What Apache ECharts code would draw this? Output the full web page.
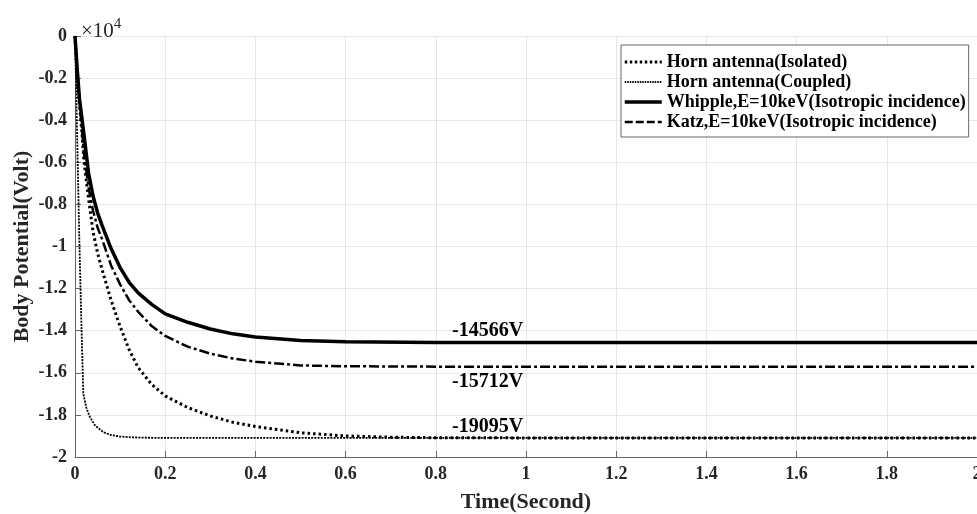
<!DOCTYPE html>
<html>
<head>
<meta charset="utf-8">
<script src="https://cdn.jsdelivr.net/npm/echarts@6/dist/echarts.min.js"></script>
<style>html,body{margin:0;padding:0;background:#fff;}#c{width:977px;height:514px;}</style>
</head>
<body>
<div id="c"></div>
<script>
// Time samples (s) and body potential (V)
const whippleT = [0, 0.005, 0.01, 0.02, 0.03, 0.04, 0.05, 0.06, 0.08, 0.1, 0.12, 0.14, 0.17, 0.2, 0.25, 0.3, 0.35, 0.4, 0.5, 0.6, 0.8, 1.0, 2.0];
const whippleV = [0, -1600, -3000, -4700, -6500, -7600, -8400, -9000, -10100, -11000, -11700, -12200, -12750, -13200, -13600, -13920, -14150, -14300, -14460, -14520, -14555, -14563, -14566];

const katzT = [0, 0.005, 0.01, 0.02, 0.03, 0.04, 0.05, 0.06, 0.08, 0.1, 0.12, 0.14, 0.17, 0.2, 0.25, 0.3, 0.35, 0.4, 0.5, 0.6, 0.8, 1.0, 2.0];
const katzV = [0, -1700, -3100, -5600, -7200, -8300, -9100, -9650, -10900, -11800, -12550, -13100, -13780, -14250, -14760, -15090, -15320, -15470, -15650, -15690, -15708, -15711, -15712];

const isolatedT = [0, 0.005, 0.01, 0.015, 0.02, 0.03, 0.04, 0.05, 0.06, 0.08, 0.1, 0.12, 0.14, 0.17, 0.2, 0.25, 0.3, 0.35, 0.4, 0.5, 0.6, 0.7, 0.8, 1.0, 2.0];
const isolatedV = [0, -2100, -3300, -4500, -6000, -7700, -9300, -10300, -11100, -12550, -13800, -14900, -15750, -16550, -17100, -17650, -18050, -18350, -18550, -18850, -19000, -19060, -19085, -19093, -19095];

const coupledT = [0, 0.005, 0.0096, 0.014, 0.0184, 0.025, 0.033, 0.045, 0.063, 0.08, 0.1, 0.13, 0.17, 0.25, 2.0];
const coupledV = [0, -5000, -9700, -13500, -17000, -17650, -18100, -18520, -18820, -18960, -19030, -19070, -19090, -19093, -19095];

const xTicks = [0, 0.2, 0.4, 0.6, 0.8, 1, 1.2, 1.4, 1.6, 1.8, 2];
const yTicks = [0, -0.2, -0.4, -0.6, -0.8, -1, -1.2, -1.4, -1.6, -1.8, -2];

const seriesNames = ['Horn antenna(Isolated)', 'Horn antenna(Coupled)', 'Whipple,E=10keV(Isotropic incidence)', 'Katz,E=10keV(Isotropic incidence)'];
const steadyLabels = [-14566, -15712, -19095];
const labelTime = 0.915;

const zip = (t, v) => t.map((x, i) => [x, v[i]]);
const serif = 'Liberation Serif, Times New Roman, serif';

const styles = [
  {color: '#000', width: 3, type: [2.5, 3], cap: 'butt'},
  {color: '#000', width: 1.8, type: [2, 1.2], cap: 'butt'},
  {color: '#000', width: 3.5, type: 'solid'},
  {color: '#000', width: 2.5, type: [10, 3, 3, 3], cap: 'butt'}
];
const legendStyles = [
  {color: '#000', width: 3, type: [2.5, 2.5], cap: 'butt'},
  {color: '#000', width: 1.8, type: [1.5, 1], cap: 'butt'},
  {color: '#000', width: 3.5, type: 'solid'},
  {color: '#000', width: 2.5, type: [8, 3], cap: 'butt'}
];

const chart = echarts.init(document.getElementById('c'), null, {renderer: 'canvas'});

function mp(val, dy) {
  return {
    symbol: 'circle', symbolSize: 0, silent: true,
    data: [{coord: [labelTime, val], value: val}],
    label: {show: true, position: 'inside', offset: [0, dy], formatter: '{c}V',
      color: '#000', fontFamily: serif, fontWeight: 'bold', fontSize: 20}
  };
}

chart.setOption({
  animation: false,
  backgroundColor: '#fff',
  title: {
    text: '{b|×10}{s|4}', left: 76, top: 8,
    textStyle: {
      rich: {
        b: {fontFamily: serif, fontWeight: 'normal', fontSize: 21, color: '#262626', padding: [8, 0, 0, 0]},
        s: {fontFamily: serif, fontWeight: 'normal', fontSize: 15, color: '#262626', padding: [0, 0, 6, 0]}
      }
    }
  },
  grid: {left: 75, right: 0, top: 36, bottom: 57, containLabel: false, outerBoundsMode: 'none'},
  legend: {
    orient: 'vertical', left: 621, top: 45, align: 'left',
    data: seriesNames.map((n, i) => ({name: n, lineStyle: legendStyles[i]})),
    itemWidth: 37, itemHeight: 18, itemGap: 2,
    padding: [8, 3, 6, 2],
    borderColor: '#666', borderWidth: 1, backgroundColor: '#fff',
    itemStyle: {color: 'transparent', borderWidth: 0, opacity: 0},
    textStyle: {fontFamily: serif, fontWeight: 'bold', fontSize: 18, color: '#000', lineHeight: 18}
  },
  xAxis: {
    type: 'value', min: 0, max: 2, interval: 0.2,
    name: 'Time(Second)', nameLocation: 'middle', nameGap: 34,
    nameTextStyle: {fontFamily: serif, fontWeight: 'bold', fontSize: 22, color: '#262626'},
    axisLine: {show: true, onZero: false, lineStyle: {color: '#666', width: 1}},
    axisTick: {show: true, inside: true, length: 6, lineStyle: {color: '#666'}},
    axisLabel: {margin: 8, fontFamily: serif, fontWeight: 'bold', fontSize: 18, color: '#262626',
      formatter: v => String(parseFloat(v.toFixed(1)))},
    splitLine: {show: true, lineStyle: {color: '#e6e6e6', width: 1}}
  },
  yAxis: {
    type: 'value', min: -20000, max: 0, interval: 2000,
    name: 'Body Potential(Volt)', nameLocation: 'middle', nameGap: 42, nameMoveOverlap: false,
    nameTextStyle: {fontFamily: serif, fontWeight: 'bold', fontSize: 22, color: '#262626'},
    axisLine: {show: true, onZero: false, lineStyle: {color: '#666', width: 1}},
    axisTick: {show: true, inside: true, length: 6, lineStyle: {color: '#666'}},
    axisLabel: {margin: 8, fontFamily: serif, fontWeight: 'bold', fontSize: 18, color: '#262626',
      formatter: v => String(parseFloat((v / 10000).toFixed(1)))},
    splitLine: {show: true, lineStyle: {color: '#e6e6e6', width: 1}}
  },
  series: [
    {name: seriesNames[0], type: 'line', showSymbol: false, symbol: 'none', z: 3,
      data: zip(isolatedT, isolatedV), lineStyle: styles[0], itemStyle: {color: '#000'}},
    {name: seriesNames[1], type: 'line', showSymbol: false, symbol: 'none', z: 4,
      data: zip(coupledT, coupledV), lineStyle: styles[1], itemStyle: {color: '#000'},
      markPoint: mp(steadyLabels[2], -11)},
    {name: seriesNames[2], type: 'line', showSymbol: false, symbol: 'none', z: 5,
      data: zip(whippleT, whippleV), lineStyle: styles[2], itemStyle: {color: '#000'},
      markPoint: mp(steadyLabels[0], -12)},
    {name: seriesNames[3], type: 'line', showSymbol: false, symbol: 'none', z: 4,
      data: zip(katzT, katzV), lineStyle: styles[3], itemStyle: {color: '#000'},
      markPoint: mp(steadyLabels[1], 15)}
  ]
});
</script>
</body>
</html>
